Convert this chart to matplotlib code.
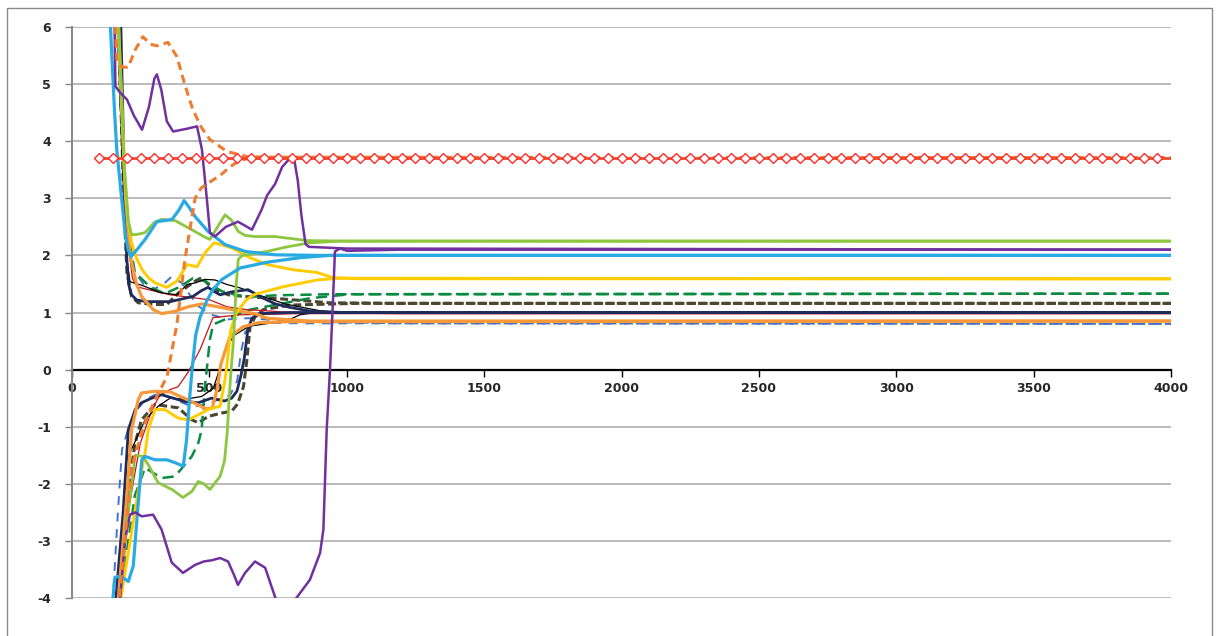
import numpy as np
import matplotlib
matplotlib.use('Agg')
import matplotlib.pyplot as plt
from matplotlib.patches import Rectangle

plt.rcParams['axes.unicode_minus'] = False      # plain hyphen on negative ticks

# reference level drawn with diamond markers
ref_level = 3.71
ref_x = [100, 4000]
ref_marker_x = list(range(100, 4000, 50))

# each run is a list of (iteration, value); "top" runs come down
# from above the plot, "bot" runs come up from below it
od_top = [(130, 10), (158, 6.0), (164, 5.39), (185, 5.3), (204, 5.29), (230, 5.6), (258, 5.83),
          (285, 5.7), (309, 5.67), (349, 5.73), (382, 5.48), (410, 5.0), (440, 4.55), (470, 4.25),
          (502, 4.03), (564, 3.82), (637, 3.73), (746, 3.72), (4000, 3.71)]
od_bot = [(130, -10), (172, -4.0), (200, -2.6), (218, -1.7), (260, -1.0), (300, -0.55), (346, -0.12),
          (382, 0.8), (411, 1.93), (448, 3.0), (470, 3.18), (500, 3.28), (539, 3.4), (575, 3.55),
          (612, 3.67), (660, 3.71), (4000, 3.71)]

pu_top = [(120, 10), (155, 6.0), (158, 4.96), (175, 4.85), (200, 4.73), (225, 4.45), (255, 4.2),
          (280, 4.6), (300, 5.1), (309, 5.17), (325, 4.9), (345, 4.35), (368, 4.17), (420, 4.22),
          (455, 4.26), (473, 3.85), (491, 2.98), (502, 2.4), (520, 2.33), (560, 2.5), (604, 2.59),
          (630, 2.52), (655, 2.45), (690, 2.8), (710, 3.05), (739, 3.25), (765, 3.55), (793, 3.7),
          (810, 3.65), (822, 3.3), (835, 2.7), (850, 2.2), (862, 2.15), (1000, 2.12), (4000, 2.1)]
pu_bot = [(150, -10), (175, -4.0), (193, -2.98), (211, -2.54), (230, -2.5), (254, -2.57), (295, -2.54),
          (326, -2.8), (363, -3.38), (404, -3.56), (448, -3.42), (480, -3.36), (508, -3.34),
          (539, -3.3), (568, -3.36), (590, -3.6), (604, -3.77), (630, -3.56), (666, -3.36),
          (703, -3.47), (739, -3.98), (760, -4.3), (790, -4.35), (812, -4.03), (866, -3.68),
          (903, -3.21), (915, -2.8), (927, -1.05), (939, 0.0), (950, 1.23), (957, 2.07), (976, 2.12),
          (1001, 2.08), (1194, 2.1), (4000, 2.1)]

gr_top = [(130, 10), (170, 6.0), (190, 3.6), (205, 2.6), (217, 2.36), (240, 2.37), (266, 2.4),
          (300, 2.58), (326, 2.63), (375, 2.61), (436, 2.45), (480, 2.33), (502, 2.28), (530, 2.5),
          (557, 2.71), (580, 2.62), (605, 2.42), (630, 2.35), (666, 2.33), (739, 2.33), (855, 2.26),
          (1000, 2.25), (4000, 2.25)]
gr_bot = [(130, -10), (175, -4.0), (200, -2.7), (230, -1.5), (258, -1.52), (277, -1.66), (313, -1.98),
          (364, -2.1), (404, -2.24), (437, -2.13), (459, -1.96), (480, -2.0), (502, -2.1),
          (539, -1.87), (555, -1.6), (565, -1.1), (572, -0.5), (579, 0.0), (586, 0.4), (592, 0.9),
          (598, 1.5), (605, 1.93), (620, 2.0), (637, 2.01), (710, 2.07), (783, 2.15), (866, 2.22),
          (976, 2.25), (4000, 2.25)]

lb_top = [(110, 10), (140, 6.0), (155, 4.5), (163, 3.85), (181, 2.98), (193, 2.4), (204, 2.1),
          (215, 1.98), (240, 2.12), (266, 2.28), (309, 2.59), (364, 2.63), (390, 2.8), (408, 2.96),
          (425, 2.85), (448, 2.68), (495, 2.42), (557, 2.19), (630, 2.07), (739, 2.01), (900, 2.0),
          (4000, 2.0)]
lb_bot = [(110, -10), (149, -4.0), (156, -3.64), (170, -3.62), (190, -3.66), (205, -3.71),
          (223, -3.44), (240, -2.4), (254, -1.58), (266, -1.52), (302, -1.58), (345, -1.58),
          (375, -1.63), (405, -1.69), (417, -1.23), (428, -0.5), (437, 0.0), (450, 0.6), (466, 0.92),
          (490, 1.2), (513, 1.4), (546, 1.58), (612, 1.78), (710, 1.88), (830, 1.96), (940, 2.0),
          (4000, 2.0)]

ye_top = [(120, 10), (168, 6.0), (190, 3.5), (204, 2.6), (218, 2.2), (235, 1.95), (255, 1.75),
          (280, 1.6), (302, 1.52), (345, 1.44), (382, 1.55), (419, 1.84), (437, 1.82), (455, 1.8),
          (485, 2.05), (517, 2.22), (550, 2.18), (586, 2.12), (648, 1.96), (710, 1.84), (804, 1.75),
          (892, 1.7), (950, 1.61), (1048, 1.59), (4000, 1.59)]
ye_bot = [(130, -10), (178, -4.0), (215, -2.9), (254, -1.75), (266, -1.45), (278, -1.05), (302, -0.7),
          (338, -0.7), (387, -0.85), (423, -0.88), (472, -0.76), (495, -0.7), (539, -0.64),
          (557, -0.18), (569, 0.29), (578, 0.7), (599, 1.0), (636, 1.23), (666, 1.32), (768, 1.45),
          (892, 1.57), (976, 1.6), (4000, 1.59)]

or_top = [(120, 10), (170, 6.0), (195, 3.0), (210, 2.1), (217, 1.87), (235, 1.5), (253, 1.28),
          (296, 1.05), (326, 0.98), (375, 1.02), (422, 1.1), (473, 1.15), (531, 1.1), (593, 1.04),
          (666, 0.98), (710, 0.9), (866, 0.85), (4000, 0.85)]
or_bot = [(130, -10), (169, -4.0), (200, -2.2), (217, -1.05), (241, -0.53), (253, -0.41), (300, -0.38),
          (357, -0.39), (422, -0.53), (484, -0.68), (510, -0.68), (528, -0.35), (542, 0.1),
          (575, 0.58), (623, 0.75), (677, 0.82), (793, 0.84), (4000, 0.85)]

nv_top = [(130, 10), (178, 6.0), (192, 3.0), (200, 1.9), (206, 1.5), (215, 1.32), (235, 1.22),
          (273, 1.19), (357, 1.19), (440, 1.28), (470, 1.38), (495, 1.44), (520, 1.36), (539, 1.31),
          (580, 1.36), (641, 1.4), (692, 1.26), (740, 1.15), (793, 1.09), (860, 1.03), (939, 1.0),
          (4000, 1.0)]
nv_bot = [(130, -10), (160, -4.0), (186, -2.5), (205, -1.05), (230, -0.7), (253, -0.58), (290, -0.5),
          (326, -0.44), (411, -0.56), (460, -0.58), (508, -0.5), (555, -0.55), (581, -0.5),
          (600, -0.38), (615, -0.1), (627, 0.2), (640, 0.7), (655, 0.9), (680, 0.98), (793, 1.0),
          (4000, 1.0)]

bk_top = [(130, 10), (165, 6.0), (185, 3.5), (198, 2.0), (211, 1.54), (258, 1.47), (320, 1.35),
          (382, 1.31), (419, 1.49), (450, 1.52), (484, 1.58), (520, 1.57), (564, 1.49), (612, 1.43),
          (684, 1.3), (775, 1.15), (903, 1.03), (1048, 1.0), (4000, 1.0)]
bk_bot = [(130, -10), (164, -4.0), (199, -1.58), (266, -0.88), (314, -0.64), (357, -0.5), (411, -0.52),
          (472, -0.47), (514, -0.33), (530, -0.1), (542, 0.1), (557, 0.35), (590, 0.6), (645, 0.76),
          (732, 0.82), (793, 0.88), (830, 0.96), (914, 1.02), (1012, 1.0), (4000, 1.0)]

rd_top = [(130, 10), (170, 6.0), (190, 3.5), (204, 2.2), (220, 1.6), (237, 1.45), (295, 1.38),
          (357, 1.31), (440, 1.26), (502, 1.22), (564, 1.1), (637, 1.05), (804, 1.0), (1194, 0.98),
          (4000, 0.98)]
rd_bot = [(130, -10), (175, -4.0), (204, -2.5), (248, -1.3), (291, -0.7), (320, -0.45), (357, -0.35),
          (386, -0.3), (422, -0.05), (466, 0.35), (491, 0.65), (513, 0.91), (612, 0.96), (830, 0.98),
          (4000, 0.98)]

gd_top = [(130, 10), (170, 6.0), (190, 3.5), (204, 2.4), (229, 1.7), (284, 1.45), (338, 1.33),
          (393, 1.45), (440, 1.6), (484, 1.55), (546, 1.37), (630, 1.27), (739, 1.3), (939, 1.32),
          (4000, 1.33)]
gd_bot = [(130, -10), (175, -4.0), (229, -2.2), (266, -1.72), (326, -1.9), (375, -1.87), (436, -1.52),
          (460, -1.28), (472, -1.05), (484, -0.29), (502, 0.53), (514, 0.79), (557, 0.88), (648, 1.05),
          (757, 1.15), (866, 1.25), (1012, 1.32), (4000, 1.33)]

ol_top = [(130, 10), (170, 6.0), (188, 3.0), (200, 1.7), (217, 1.28), (241, 1.17), (302, 1.14),
          (345, 1.14), (387, 1.34), (448, 1.55), (472, 1.61), (495, 1.5), (520, 1.4), (569, 1.31),
          (630, 1.28), (757, 1.24), (939, 1.17), (1194, 1.16), (4000, 1.16)]
ol_bot = [(130, -10), (167, -4.0), (200, -2.3), (229, -1.3), (253, -0.88), (302, -0.61), (387, -0.67),
          (436, -0.88), (460, -0.93), (496, -0.82), (545, -0.76), (581, -0.73), (603, -0.6),
          (624, -0.3), (636, 0.15), (648, 0.75), (666, 0.92), (696, 1.05), (793, 1.13), (1037, 1.16),
          (4000, 1.16)]

bd_top = [(130, 10), (165, 6.0), (185, 3.5), (200, 2.4), (217, 1.81), (235, 1.66), (266, 1.46),
          (296, 1.4), (338, 1.52), (363, 1.63), (399, 1.52), (430, 1.3), (460, 1.11), (508, 0.96),
          (569, 0.88), (640, 0.9), (700, 0.88), (804, 0.84), (1194, 0.81), (4000, 0.8)]
bd_bot = [(130, -10), (149, -4.0), (167, -2.5), (182, -1.4), (204, -1.05), (229, -0.75), (266, -0.53),
          (302, -0.44), (349, -0.47), (437, -0.65), (484, -0.61), (531, -0.53), (575, -0.45),
          (601, -0.2), (615, 0.3), (630, 0.65), (648, 0.77), (677, 0.82), (830, 0.81), (4000, 0.8)]

x_ticks = [0, 500, 1000, 1500, 2000, 2500, 3000, 3500, 4000]
y_ticks = [-4, -3, -2, -1, 0, 1, 2, 3, 4, 5, 6]


def draw_run(ax, pts, color, lw, dashes=None, z=3):
    '''Draws one run from its list of (x, y) points.'''
    xy = np.array(pts)
    line, = ax.plot(xy[:, 0], xy[:, 1], color=color, lw=lw, zorder=z,
                    solid_joinstyle='round', dash_joinstyle='round')
    if dashes is not None:
        line.set_dashes(dashes)
    return line


def make_chart():
    fig = plt.figure(figsize=(12.18, 6.36), dpi=100)
    ax = fig.add_axes([72 / 1218, 38 / 636, 1099 / 1218, 571 / 636])

    # outer chart frame
    fig.patches.append(Rectangle((7 / 1218, -0.05), 1205 / 1218, 1.05 - 8 / 636,
                                 transform=fig.transFigure, fill=False,
                                 edgecolor='#8a8a8a', lw=1.0))

    styles = [
        (bd_top, '#4472C4', 1.4, (4.5, 4)), (bd_bot, '#4472C4', 1.4, (4.5, 4)),
        (ol_top, '#4A4630', 2.2, (2.6, 1.2)), (ol_bot, '#4A4630', 2.2, (2.6, 1.2)),
        (gd_top, '#0A8A43', 1.8, (4.5, 2.5)), (gd_bot, '#0A8A43', 1.8, (4.5, 2.5)),
        (rd_top, '#C3161C', 0.9, None), (rd_bot, '#C3161C', 0.9, None),
        (bk_top, '#000000', 0.9, None), (bk_bot, '#000000', 0.9, None),
        (nv_top, '#1F2B5B', 2.0, None), (nv_bot, '#1F2B5B', 2.0, None),
        (or_top, '#F7983A', 2.3, None), (or_bot, '#F7983A', 2.3, None),
        (ye_top, '#FFCC00', 2.1, None), (ye_bot, '#FFCC00', 2.1, None),
        (gr_top, '#8DC63F', 2.0, None), (gr_bot, '#8DC63F', 2.0, None),
        (lb_top, '#2AAAE2', 2.3, None), (lb_bot, '#2AAAE2', 2.3, None),
        (pu_top, '#7030A0', 1.8, None), (pu_bot, '#7030A0', 1.8, None),
        (od_top, '#ED7D31', 2.2, (2.7, 1.7)), (od_bot, '#ED7D31', 2.2, (2.7, 1.7)),
    ]
    for pts, color, lw, dashes in styles:
        draw_run(ax, pts, color, lw, dashes)

    # reference level with white diamonds
    ax.plot(ref_x, [ref_level] * len(ref_x), color='#EE4B2B', lw=2.0, zorder=4)
    ax.plot(ref_marker_x, [ref_level] * len(ref_marker_x), ls='none', marker='D',
            markersize=5.2, markerfacecolor='white', markeredgecolor='#FF2A2A',
            markeredgewidth=1.0, zorder=5)

    ax.set_xlim(0, 4000)
    ax.set_ylim(-4, 6)
    ax.set_xticks(x_ticks)
    ax.set_yticks(y_ticks)
    ax.yaxis.grid(True, color='#B4B4B4', lw=1.3)
    ax.set_axisbelow(True)

    for side in ['top', 'right']:
        ax.spines[side].set_visible(False)
    ax.spines['left'].set_color('#868686')
    ax.spines['left'].set_linewidth(1.4)
    ax.spines['bottom'].set_position(('data', 0))
    ax.spines['bottom'].set_color('black')
    ax.spines['bottom'].set_linewidth(1.6)
    ax.spines['bottom'].set_zorder(1.8)

    ax.tick_params(axis='y', direction='out', length=5, width=1, color='#868686',
                   labelsize=9, labelcolor='#262626', pad=10)
    ax.tick_params(axis='x', direction='out', length=5, width=1, color='black',
                   labelsize=9, labelcolor='#262626', pad=4)
    for lab in ax.get_xticklabels() + ax.get_yticklabels():
        lab.set_fontweight('bold')

    fig.savefig('out.png', dpi=100)


if __name__ == "__main__":
    make_chart()
